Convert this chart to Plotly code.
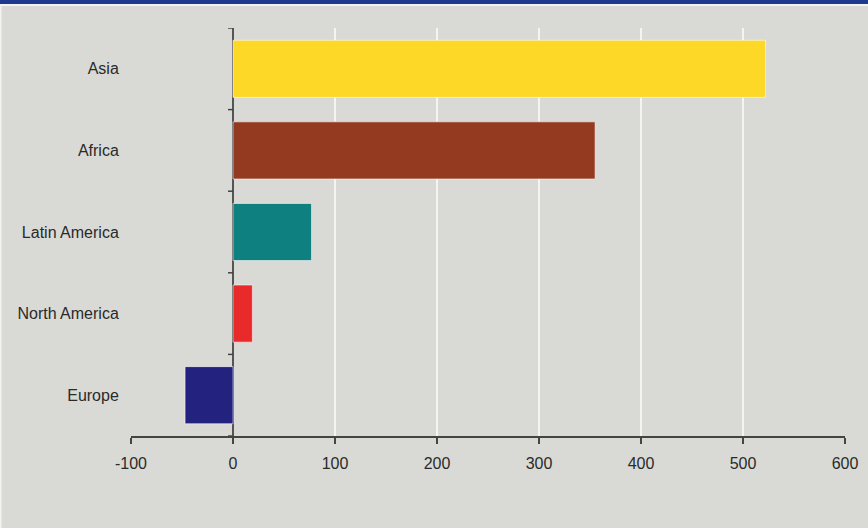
import plotly.graph_objects as go

categories = ["Asia", "Africa", "Latin America", "North America", "Europe"]
values = [522, 355, 77, 19, -47]
colors = ["#fdd826", "#943a20", "#0e8080", "#e82a2a", "#23227f"]
x_ticks = [-100, 0, 100, 200, 300, 400, 500, 600]

BG = "#d9dad5"
FONT = "Liberation Sans, Arial, sans-serif"

W, H = 868, 528
ML, MR, MT, MB = 131, 23, 28, 92
PW, PH = W - ML - MR, H - MT - MB

fig = go.Figure()
fig.add_trace(go.Bar(
    y=categories, x=values, orientation="h",
    marker=dict(color=colors, line=dict(color="rgba(255,255,255,0.55)", width=1)),
    width=0.7, hoverinfo="skip",
))

n = len(categories)
# category boundary ticks on the zero axis
for k in range(n + 1):
    fig.add_shape(type="line", xref="x", yref="y", xsizemode="pixel", xanchor=0,
                  x0=-5, x1=0, y0=k - 0.5, y1=k - 0.5,
                  line=dict(color="#444444", width=1.5))

# page frame: blue band on top, light edge lines
fig.add_shape(type="rect", xref="paper", yref="paper",
              x0=-ML / PW, x1=1 + MR / PW, y0=1 + (MT - 4) / PH, y1=1 + MT / PH,
              fillcolor="#1e3a8f", line=dict(width=0), layer="above")
fig.add_shape(type="rect", xref="paper", yref="paper",
              x0=-ML / PW, x1=1 + MR / PW, y0=1 + (MT - 6) / PH, y1=1 + (MT - 4) / PH,
              fillcolor="#f2f3f0", line=dict(width=0), layer="above")
fig.add_shape(type="rect", xref="paper", yref="paper",
              x0=-ML / PW, x1=-(ML - 1.5) / PW, y0=-MB / PH, y1=1 + (MT - 6) / PH,
              fillcolor="#f2f3f0", line=dict(width=0), layer="above")

fig.update_layout(
    width=W, height=H,
    margin=dict(l=ML, r=MR, t=MT, b=MB, autoexpand=False),
    paper_bgcolor=BG, plot_bgcolor=BG,
    font=dict(family=FONT, size=16, color="#2a2a2a"),
    showlegend=False,
    xaxis=dict(
        range=[-100, 600], tickmode="array", tickvals=x_ticks,
        ticktext=[str(v) for v in x_ticks],
        showgrid=True, gridcolor="#f4f4f2", gridwidth=1.5,
        zeroline=True, zerolinecolor="#555555", zerolinewidth=1.5,
        showline=True, linecolor="#444444", linewidth=1.5,
        ticks="outside", ticklen=6, tickcolor="#444444", tickwidth=1.5,
        ticklabelstandoff=6,
        fixedrange=True, automargin=False,
    ),
    yaxis=dict(
        type="category", categoryorder="array", categoryarray=categories,
        range=[n - 0.5, -0.5],
        showgrid=False, zeroline=False, showline=False,
        ticks="outside", ticklen=8, tickcolor="rgba(0,0,0,0)",
        fixedrange=True, automargin=False,
    ),
)

fig.write_html("out.html")
